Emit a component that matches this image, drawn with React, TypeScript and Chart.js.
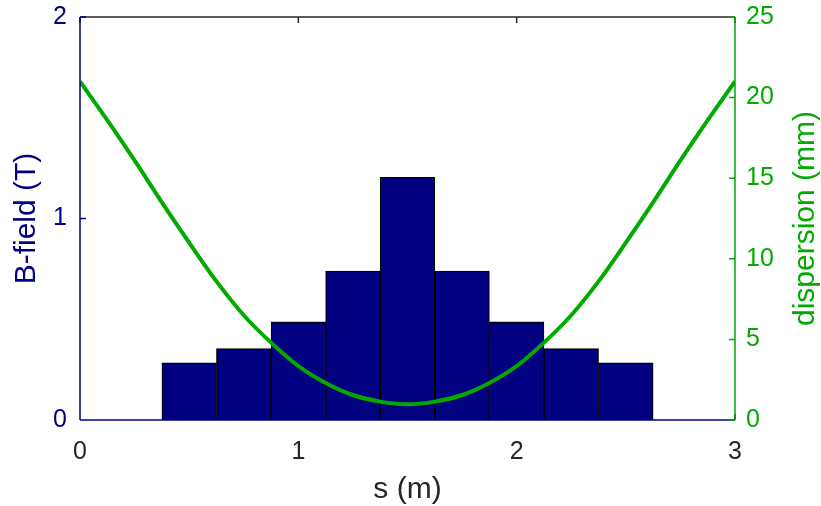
import React, { useEffect, useRef } from "react";
import { Chart, registerables } from "chart.js";

Chart.register(...registerables);

// Magnet centres along s (m) and their field (T)
const magnetCenters = [0.5, 0.75, 1.0, 1.25, 1.5, 1.75, 2.0, 2.25, 2.5];
const bField = [0.284, 0.354, 0.487, 0.739, 1.204, 0.739, 0.487, 0.354, 0.284];

// Dispersion curve samples: s (m) and dispersion (mm)
const sPositions = [
  0, 0.125, 0.25, 0.375, 0.5, 0.625, 0.75, 0.875, 1.0, 1.125, 1.25, 1.375, 1.5,
  1.625, 1.75, 1.875, 2.0, 2.125, 2.25, 2.375, 2.5, 2.625, 2.75, 2.875, 3.0,
];
const dispersion = [
  21.0, 18.6, 16.1, 13.5, 11.0, 8.6, 6.5, 4.8, 3.35, 2.3, 1.55, 1.14, 0.97,
  1.14, 1.55, 2.3, 3.35, 4.8, 6.5, 8.6, 11.0, 13.5, 16.1, 18.6, 21.0,
];

const xTicks = [0, 1, 2, 3];
const leftTicks = [0, 1, 2];
const rightTicks = [0, 5, 10, 15, 20, 25];

const NAVY = "#000080";
const GREEN = "#00AA00";
const DARK = "#262626";
const FONT = "'Liberation Sans', Arial, Helvetica, sans-serif";

const framePlugin = {
  id: "frame",
  afterDraw(chart: any) {
    const { ctx, chartArea } = chart;
    const { left, right, top, bottom } = chartArea;
    const xs = chart.scales.x;
    const yl = chart.scales.y;
    const yr = chart.scales.y1;
    const tick = 6;
    ctx.save();
    ctx.lineWidth = 1.5;
    // top border + ticks
    ctx.strokeStyle = DARK;
    ctx.beginPath();
    ctx.moveTo(left, top);
    ctx.lineTo(right, top);
    xTicks.forEach((v) => {
      const px = xs.getPixelForValue(v);
      ctx.moveTo(px, top);
      ctx.lineTo(px, top + tick);
    });
    ctx.stroke();
    // bottom border + ticks
    ctx.strokeStyle = NAVY;
    ctx.beginPath();
    ctx.moveTo(left, bottom);
    ctx.lineTo(right, bottom);
    xTicks.forEach((v) => {
      const px = xs.getPixelForValue(v);
      ctx.moveTo(px, bottom);
      ctx.lineTo(px, bottom - tick);
    });
    // left border + ticks
    ctx.moveTo(left, top);
    ctx.lineTo(left, bottom);
    leftTicks.forEach((v) => {
      const py = yl.getPixelForValue(v);
      ctx.moveTo(left, py);
      ctx.lineTo(left + tick, py);
    });
    ctx.stroke();
    // right border + ticks
    ctx.strokeStyle = GREEN;
    ctx.beginPath();
    ctx.moveTo(right, top);
    ctx.lineTo(right, bottom);
    rightTicks.forEach((v) => {
      const py = yr.getPixelForValue(v);
      ctx.moveTo(right, py);
      ctx.lineTo(right - tick, py);
    });
    ctx.stroke();

    // axis titles
    ctx.font = `30px ${FONT}`;
    ctx.textAlign = "center";
    ctx.textBaseline = "middle";
    ctx.fillStyle = DARK;
    ctx.fillText("s (m)", (left + right) / 2, 490);

    ctx.save();
    ctx.translate(27, (top + bottom) / 2);
    ctx.rotate(-Math.PI / 2);
    ctx.fillStyle = NAVY;
    ctx.fillText("B-field (T)", 0, 0);
    ctx.restore();

    ctx.save();
    ctx.translate(806, (top + bottom) / 2);
    ctx.rotate(-Math.PI / 2);
    ctx.fillStyle = GREEN;
    ctx.fillText("dispersion (mm)", 0, 0);
    ctx.restore();

    ctx.restore();
  },
};

export default function App() {
  const canvasRef = useRef<HTMLCanvasElement | null>(null);

  useEffect(() => {
    const canvas = canvasRef.current;
    if (!canvas) return;
    const chart = new Chart(canvas, {
      type: "bar",
      data: {
        datasets: [
          {
            type: "line",
            label: "dispersion",
            data: sPositions.map((s, i) => ({ x: s, y: dispersion[i] })),
            yAxisID: "y1",
            borderColor: GREEN,
            borderWidth: 4,
            pointRadius: 0,
            fill: false,
            cubicInterpolationMode: "monotone",
            order: 0,
          } as any,
          {
            type: "bar",
            label: "B-field",
            data: magnetCenters.map((s, i) => ({ x: s, y: bField[i] })),
            yAxisID: "y",
            backgroundColor: NAVY,
            borderColor: "#000000",
            borderWidth: 1.2,
            borderSkipped: false,
            barPercentage: 1,
            categoryPercentage: 1,
            order: 1,
          } as any,
        ],
      },
      options: {
        animation: false,
        responsive: false,
        maintainAspectRatio: false,
        layout: { padding: { top: 17, left: 0, right: 0, bottom: 0 } },
        plugins: {
          legend: { display: false },
          tooltip: { enabled: false },
          title: { display: false },
        },
        scales: {
          x: {
            type: "linear",
            min: 0,
            max: 3,
            offset: false,
            grid: { display: false, drawTicks: false },
            border: { display: false },
            ticks: {
              stepSize: 1,
              color: DARK,
              font: { family: FONT, size: 25 },
              padding: 17,
              maxRotation: 0,
            },
            afterFit: (s: any) => {
              s.height = 86;
              s.paddingLeft = 0;
              s.paddingRight = 0;
            },
          },
          y: {
            type: "linear",
            position: "left",
            min: 0,
            max: 2,
            grid: { display: false, drawTicks: false },
            border: { display: false },
            ticks: {
              stepSize: 1,
              color: NAVY,
              font: { family: FONT, size: 25 },
              padding: 13,
            },
            afterFit: (s: any) => {
              s.width = 80;
              s.paddingTop = 0;
              s.paddingBottom = 0;
            },
          },
          y1: {
            type: "linear",
            position: "right",
            min: 0,
            max: 25,
            grid: { display: false, drawTicks: false },
            border: { display: false },
            ticks: {
              stepSize: 5,
              color: GREEN,
              font: { family: FONT, size: 25 },
              padding: 11,
            },
            afterFit: (s: any) => {
              s.width = 86;
              s.paddingTop = 0;
              s.paddingBottom = 0;
            },
          },
        },
      } as any,
      plugins: [framePlugin],
    });
    return () => chart.destroy();
  }, []);

  return (
    <div style={{ position: "fixed", left: 0, top: 0, width: 821, height: 506, background: "#fff" }}>
      <canvas ref={canvasRef} width={821} height={506} />
    </div>
  );
}
